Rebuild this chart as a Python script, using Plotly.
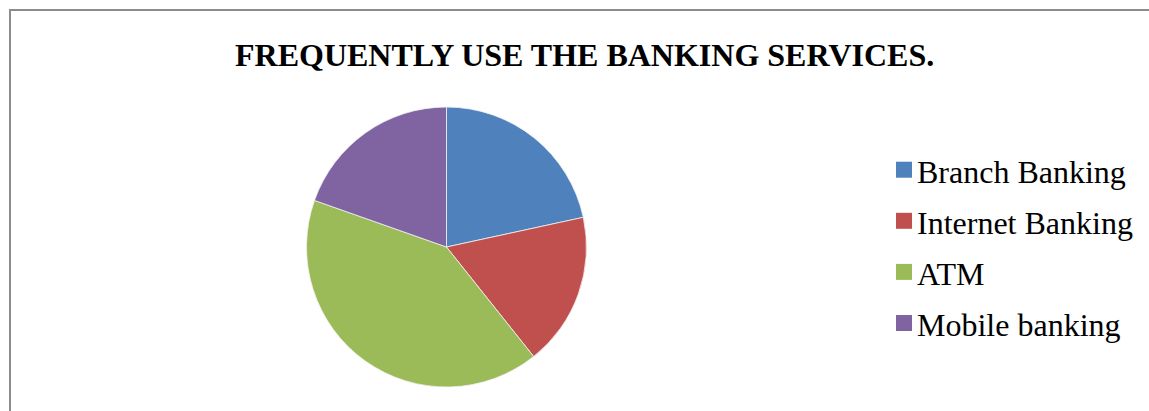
import plotly.graph_objects as go

W, H = 1149, 411

labels = ["Branch Banking", "Internet Banking", "ATM", "Mobile banking"]
values = [21.6, 17.7, 41.1, 19.6]
colors = ["#4F81BD", "#C0504D", "#9BBB59", "#8064A2"]
title_text = "FREQUENTLY USE THE BANKING SERVICES."

FONT = "Liberation Serif, Times New Roman, serif"

# pie geometry in pixels
cx, cy, r = 446.5, 247, 140

def px(x):
    return x / W

def py(y):
    return 1 - y / H

fig = go.Figure()
fig.add_trace(go.Pie(
    labels=labels,
    values=values,
    sort=False,
    direction="clockwise",
    rotation=0,
    marker=dict(colors=colors, line=dict(color="#f2f2f2", width=0.8)),
    textinfo="none",
    showlegend=False,
    domain=dict(x=[px(cx - r), px(cx + r)], y=[py(cy + r), py(cy - r)]),
))

shapes = [
    # outer chart frame (top and left visible)
    dict(type="rect", xref="paper", yref="paper",
         x0=px(10), x1=px(W + 20), y0=py(H + 20), y1=py(10),
         line=dict(color="#8c8c8c", width=2), fillcolor="rgba(0,0,0,0)", layer="above"),
]
annotations = [
    dict(text="<b>" + title_text + "</b>", x=px(584.5), y=py(55), xref="paper", yref="paper",
         xanchor="center", yanchor="middle", showarrow=False,
         font=dict(family=FONT, size=32, color="black")),
]

# manual legend
leg_x0 = 896
sq = 16
row0 = 169.7
step = 51.1
for i, (lab, col) in enumerate(zip(labels, colors)):
    yc = row0 + i * step
    shapes.append(dict(type="rect", xref="paper", yref="paper",
                       x0=px(leg_x0), x1=px(leg_x0 + sq),
                       y0=py(yc + sq / 2), y1=py(yc - sq / 2),
                       fillcolor=col, line=dict(width=0)))
    annotations.append(dict(text=lab, x=px(leg_x0 + sq + 3), y=py(yc + 2),
                            xref="paper", yref="paper", xanchor="left", yanchor="middle",
                            showarrow=False, font=dict(family=FONT, size=32, color="black")))

fig.update_layout(
    width=W, height=H, autosize=False,
    margin=dict(l=0, r=0, t=0, b=0),
    paper_bgcolor="white", plot_bgcolor="white",
    shapes=shapes, annotations=annotations,
)

fig.write_html("out.html")
